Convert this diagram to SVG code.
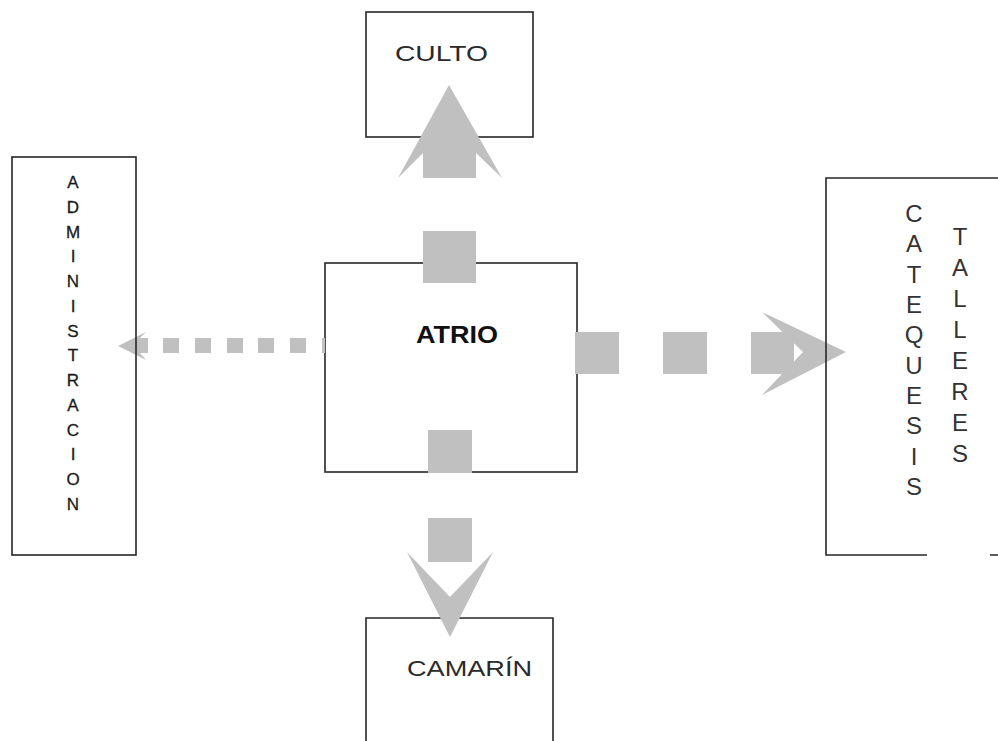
<svg xmlns="http://www.w3.org/2000/svg" width="998" height="741" viewBox="0 0 998 741">
<style>
.box{fill:none;stroke:#262626;stroke-width:1.6}
.arr{fill:#c0c0c0;stroke:none}
.lbl{font-family:"Liberation Sans",Arial,sans-serif;fill:#2a2a2a;font-size:22px}
.bold{font-weight:bold;fill:#111;font-size:23px}
.adm{font-family:"Liberation Sans",Arial,sans-serif;fill:#1a1a1a;font-size:17px;text-anchor:middle;stroke:#1a1a1a;stroke-width:0.3}
.cat{font-family:"Liberation Sans",Arial,sans-serif;fill:#333;font-size:24px;text-anchor:middle}
</style>
<rect width="998" height="741" fill="#fff"/>
<g id="atrio">
<rect class="box" x="325" y="263" width="252" height="209" fill="#fff"/>
<text class="lbl bold" x="416" y="343" textLength="82" lengthAdjust="spacingAndGlyphs">ATRIO</text>
</g>
<g id="culto">
<rect class="box" x="366" y="12" width="167" height="125"/>
<text class="lbl" x="395" y="61" textLength="93" lengthAdjust="spacingAndGlyphs">CULTO</text>
</g>
<g id="camarin">
<path class="box" d="M366,741 V618 H553 V741"/>
<text class="lbl" x="407" y="676" textLength="125" lengthAdjust="spacingAndGlyphs">CAMARÍN</text>
</g>
<g id="connectors">
<g id="to-culto">
<rect class="arr" x="423" y="231" width="53" height="52"/>
<polygon class="arr" points="449,85 502,178 476,153 476,178 423,178 423,153 398,178"/>
</g>
<g id="to-camarin">
<rect class="arr" x="428" y="430" width="44" height="43"/>
<rect class="arr" x="428" y="518" width="44" height="44"/>
<polygon class="arr" points="407,552 450,637 493,552 450,597"/>
</g>
<g id="to-catequesis">
<rect class="arr" x="575" y="332" width="44" height="42"/>
<rect class="arr" x="663" y="332" width="44" height="42"/>
<rect class="arr" x="751" y="332" width="43" height="42"/>
<polygon class="arr" points="846,352 762,312 803,352 762,395"/>
</g>
<g id="to-administracion">
<rect class="arr" x="163" y="338" width="16" height="15"/>
<rect class="arr" x="195" y="338" width="16" height="15"/>
<rect class="arr" x="227" y="338" width="16" height="15"/>
<rect class="arr" x="258" y="338" width="16" height="15"/>
<rect class="arr" x="290" y="338" width="16" height="15"/>
<rect class="arr" x="322" y="338" width="3" height="15"/>
<polygon class="arr" points="118,346 146,332 140,338 148,338 148,353 140,353 146,360"/>
</g>
</g>
<g id="administracion">
<rect class="box" x="12" y="157" width="124" height="398"/>
<text class="adm" x="73" y="188">A</text>
<text class="adm" x="73" y="213">D</text>
<text class="adm" x="73" y="238">M</text>
<text class="adm" x="73" y="262">I</text>
<text class="adm" x="73" y="287">N</text>
<text class="adm" x="73" y="312">I</text>
<text class="adm" x="73" y="337">S</text>
<text class="adm" x="73" y="361">T</text>
<text class="adm" x="73" y="386">R</text>
<text class="adm" x="73" y="411">A</text>
<text class="adm" x="73" y="436">C</text>
<text class="adm" x="73" y="460">I</text>
<text class="adm" x="73" y="485">O</text>
<text class="adm" x="73" y="510">N</text>
</g>
<g id="catequesis-talleres">
<path class="box" d="M998,178 H826 V555 H927 M990,555 H998"/>
<text class="cat" x="914" y="222">C</text>
<text class="cat" x="914" y="252">A</text>
<text class="cat" x="914" y="283">T</text>
<text class="cat" x="914" y="313">E</text>
<text class="cat" x="914" y="343">Q</text>
<text class="cat" x="914" y="374">U</text>
<text class="cat" x="914" y="404">E</text>
<text class="cat" x="914" y="434">S</text>
<text class="cat" x="914" y="465">I</text>
<text class="cat" x="914" y="495">S</text>
<text class="cat" x="960" y="245">T</text>
<text class="cat" x="960" y="276">A</text>
<text class="cat" x="960" y="307">L</text>
<text class="cat" x="960" y="338">L</text>
<text class="cat" x="960" y="369">E</text>
<text class="cat" x="960" y="400">R</text>
<text class="cat" x="960" y="431">E</text>
<text class="cat" x="960" y="462">S</text>
</g>
</svg>
